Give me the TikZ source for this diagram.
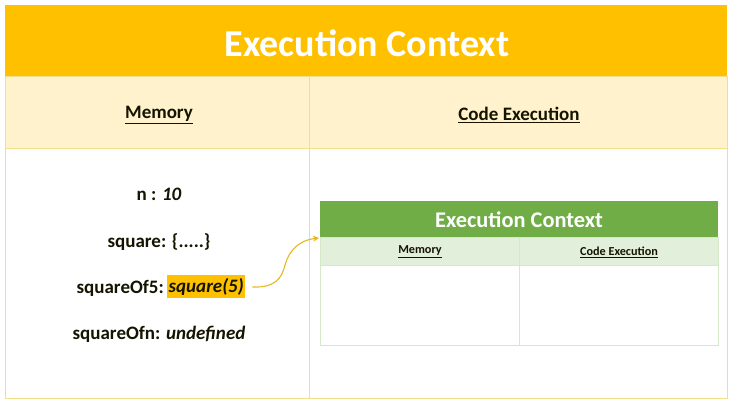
\documentclass[tikz,border=0pt]{standalone}
\usepackage{fontspec}
\setmainfont{Carlito}
\usetikzlibrary{arrows.meta}
\definecolor{hdr}{HTML}{FFC000}
\definecolor{lhdr}{HTML}{FFF2CC}
\definecolor{bord}{HTML}{F2DF8C}
\definecolor{grn}{HTML}{70AD47}
\definecolor{lgrn}{HTML}{E2EFDA}
\definecolor{gbord}{HTML}{D5E8C8}
\definecolor{txt}{HTML}{141400}
\definecolor{arr}{HTML}{E8B820}
\tikzset{
  cell/.style={draw=bord, line width=0.8pt},
  gcell/.style={draw=gbord, line width=0.8pt},
  memtxt/.style={font=\fontsize{19}{21}\selectfont\bfseries, text=txt, inner sep=0pt},
  colhead/.style={font=\fontsize{19}{21}\selectfont\bfseries, text=txt, inner sep=0pt},
  smallhead/.style={font=\fontsize{12.2}{14}\selectfont\bfseries, text=txt, inner sep=0pt},
}
\begin{document}
\begin{tikzpicture}[x=1pt,y=-1pt]
\useasboundingbox (0,0) rectangle (732,403);
\fill[white] (0,0) rectangle (732,403);
% outer table
\fill[hdr] (5,5) rectangle (727,76);
\fill[lhdr] (5,76) rectangle (727,148);
\draw[cell] (5,76) rectangle (727,398);
\draw[cell] (5,148) -- (727,148);
\draw[cell] (309,76) -- (309,398);
\node[font=\fontsize{38}{40}\selectfont\bfseries, text=white] (title) at (367,43) {Execution Context};
\node[colhead] (mem) at (159,115) {\underline{Memory}};
\node[colhead] (code) at (519,115) {\underline{Code Execution}};
% memory entries
\node[memtxt] (n) at (159,194) {n : \textit{10}};
\node[memtxt] (sq) at (159,242) {square: \{.....\}};
\node[memtxt, anchor=east] (sq5) at (164,288) {squareOf5:};
\node[memtxt, anchor=west, fill=hdr, inner xsep=1.5pt, minimum height=23pt] (call) at (167,287) {\textit{square(5)}};
\node[memtxt] (sqn) at (159,334) {squareOfn: \textit{undefined}};
% inner table
\fill[grn] (320,201) rectangle (718,237);
\fill[lgrn] (320,237) rectangle (718,265);
\draw[gcell] (320,237) rectangle (718,345);
\draw[gcell] (320,265) -- (718,265);
\draw[gcell] (519,237) -- (519,345);
\node[font=\fontsize{22.4}{24}\selectfont\bfseries, text=white] (ititle) at (519,220) {Execution Context};
\node[smallhead] (imem) at (420,252) {\underline{Memory}};
\node[smallhead] (icode) at (619,252) {\underline{Code Execution}};
\coordinate (target) at (319,238);
% arrow
\draw[arr, line width=1.1pt, -{Stealth[length=6pt,width=6pt]}] ([xshift=7pt]call.east) .. controls (275,288) and (282,278) .. (285,265) .. controls (289,250) and (300,240) .. (target);
\end{tikzpicture}
\end{document}
